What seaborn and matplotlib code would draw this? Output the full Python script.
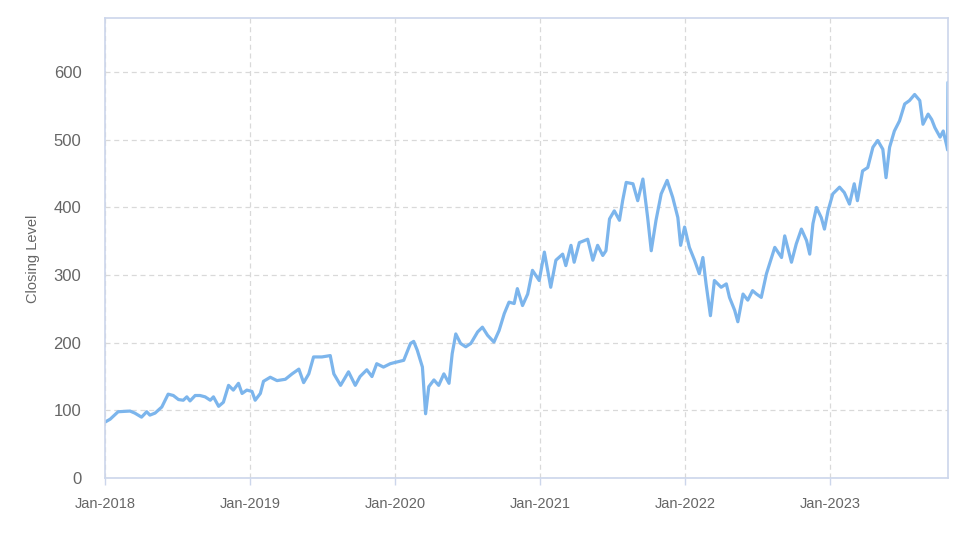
import pandas as pd
import matplotlib
matplotlib.use("Agg")
import matplotlib.pyplot as plt
import matplotlib.dates as mdates
import seaborn as sns

# Closing levels (approximate, ~2 points per month)
dates = [
    "2018-01-02", "2018-01-14", "2018-02-03", "2018-03-05", "2018-03-17", "2018-04-03",
    "2018-04-16", "2018-04-24", "2018-05-07", "2018-05-24", "2018-06-09", "2018-06-22",
    "2018-07-05", "2018-07-17", "2018-07-26", "2018-08-03", "2018-08-16", "2018-08-28",
    "2018-09-10", "2018-09-23", "2018-10-01", "2018-10-14", "2018-10-26", "2018-11-08",
    "2018-11-20", "2018-12-03", "2018-12-12", "2018-12-24",
    "2019-01-06", "2019-01-14", "2019-01-27", "2019-02-04", "2019-02-21", "2019-03-10",
    "2019-03-31", "2019-04-17", "2019-05-04", "2019-05-16", "2019-05-29", "2019-06-10",
    "2019-07-01", "2019-07-22", "2019-07-31", "2019-08-17", "2019-09-06", "2019-09-23",
    "2019-10-05", "2019-10-22", "2019-11-04", "2019-11-16", "2019-12-03", "2019-12-20",
    "2020-01-02", "2020-01-23", "2020-02-09", "2020-02-17", "2020-02-26", "2020-03-10",
    "2020-03-18", "2020-03-26", "2020-04-08", "2020-04-20", "2020-05-03", "2020-05-16",
    "2020-05-24", "2020-06-02", "2020-06-14", "2020-06-27", "2020-07-10", "2020-07-27",
    "2020-08-08", "2020-08-21", "2020-09-06", "2020-09-19", "2020-10-02", "2020-10-14",
    "2020-10-27", "2020-11-04", "2020-11-17", "2020-11-30", "2020-12-12", "2020-12-29",
    "2021-01-11", "2021-01-27", "2021-02-09", "2021-02-26", "2021-03-06", "2021-03-19",
    "2021-03-27", "2021-04-09", "2021-04-30", "2021-05-13", "2021-05-25", "2021-06-07",
    "2021-06-15", "2021-06-24", "2021-07-06", "2021-07-19", "2021-07-27", "2021-08-05",
    "2021-08-22", "2021-09-03", "2021-09-16", "2021-09-28", "2021-10-07", "2021-10-19",
    "2021-11-01", "2021-11-16", "2021-11-30", "2021-12-13", "2021-12-20", "2021-12-30",
    "2022-01-11", "2022-01-24", "2022-02-05", "2022-02-14", "2022-02-22", "2022-03-05",
    "2022-03-15", "2022-04-01", "2022-04-14", "2022-04-22", "2022-05-05", "2022-05-13",
    "2022-05-26", "2022-06-07", "2022-06-19", "2022-06-29", "2022-07-11", "2022-07-24",
    "2022-08-01", "2022-08-14", "2022-08-31", "2022-09-08", "2022-09-25", "2022-10-07",
    "2022-10-20", "2022-11-02", "2022-11-10", "2022-11-18", "2022-11-27", "2022-12-09",
    "2022-12-17", "2022-12-26",
    "2023-01-07", "2023-01-24", "2023-02-05", "2023-02-18", "2023-03-02", "2023-03-10",
    "2023-03-23", "2023-04-05", "2023-04-18", "2023-04-30", "2023-05-13", "2023-05-21",
    "2023-05-30", "2023-06-11", "2023-06-24", "2023-07-07", "2023-07-19", "2023-08-01",
    "2023-08-14", "2023-08-22", "2023-09-04", "2023-09-13", "2023-09-21", "2023-10-04",
    "2023-10-12", "2023-10-21", "2023-10-23", "2023-10-24",
]
closing = [
    83, 87, 98, 99, 96, 90,
    98, 93, 96, 105, 124, 122,
    116, 115, 120, 114, 122, 122,
    120, 115, 120, 106, 112, 137,
    130, 140, 125, 130,
    128, 115, 125, 143, 149, 144,
    146, 154, 161, 141, 154, 179,
    179, 181, 154, 137, 157, 137,
    150, 160, 150, 169, 164, 169,
    171, 174, 199, 202, 189, 164,
    95, 135, 145, 137, 154, 140,
    184, 213, 199, 194, 199, 216,
    223, 211, 201, 218, 243, 260,
    258, 280, 255, 272, 307, 292,
    334, 282, 322, 331, 314, 344,
    319, 348, 353, 322, 344, 329,
    336, 383, 395, 381, 410, 437,
    435, 410, 442, 385, 336, 381,
    420, 440, 415, 385, 344, 371,
    341, 322, 302, 326, 287, 240,
    292, 282, 287, 267, 248, 231,
    272, 263, 277, 272, 267, 302,
    317, 341, 326, 358, 319, 346,
    368, 351, 331, 376, 400, 385,
    368, 395,
    420, 430, 422, 405, 435, 410,
    454, 459, 489, 499, 486, 444,
    489, 513, 528, 553, 558, 567,
    558, 523, 538, 530, 518, 504,
    513, 491, 485, 585,
]
y_ticks = [0, 100, 200, 300, 400, 500, 600]

df = pd.DataFrame({"date": pd.to_datetime(dates), "close": closing})

sns.set_theme(style="white")
plt.rcParams["font.family"] = ["Liberation Sans", "DejaVu Sans"]

fig = plt.figure(figsize=(9.74, 5.47), dpi=100)
ax = fig.add_axes([0.1078, 0.1261, 0.8655, 0.8409])

sns.lineplot(data=df, x="date", y="close", ax=ax, color="#7cb5ec", linewidth=2.3)

ax.set_xlim(pd.Timestamp("2018-01-01"), df["date"].iloc[-1])
ax.set_ylim(0, 680)
ax.set_yticks(y_ticks)
ax.xaxis.set_major_locator(mdates.YearLocator())
ax.xaxis.set_major_formatter(mdates.DateFormatter("%b-%Y"))

ax.grid(True, linestyle=(0, (4, 3)), color="#d9d9d9", linewidth=0.9)
ax.set_axisbelow(True)
for side in ax.spines.values():
    side.set_color("#ccd6eb")
    side.set_linewidth(1.2)

ax.tick_params(axis="x", bottom=True, length=5, width=1, color="#ccd6eb",
               pad=9, labelsize=10.5, labelcolor="#666666")
ax.tick_params(axis="y", left=False, pad=11, labelsize=12, labelcolor="#666666")

ax.set_xlabel("")
ax.set_ylabel("Closing Level", fontsize=10.5, color="#666666")
ax.yaxis.set_label_coords(-0.077, 0.476)

fig.savefig("out.png", dpi=100)
